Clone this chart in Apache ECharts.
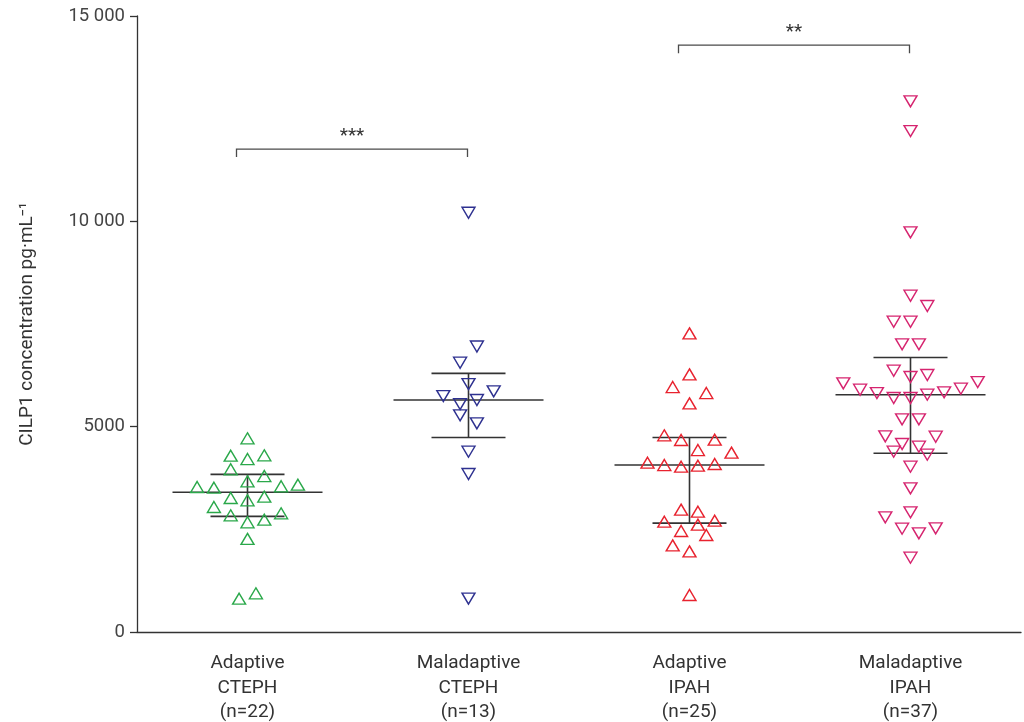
<!DOCTYPE html>
<html>
<head>
<meta charset="utf-8">
<script src="https://cdn.jsdelivr.net/npm/echarts@6/dist/echarts.min.js"></script>
<style>
  html, body { margin: 0; padding: 0; background: #fff; }
  #chart { width: 1024px; height: 722px; }
</style>
</head>
<body>
<div id="chart"></div>
<script>
// Groups on the x axis
const categories = [
  'Adaptive\nCTEPH\n(n=22)',
  'Maladaptive\nCTEPH\n(n=13)',
  'Adaptive\nIPAH\n(n=25)',
  'Maladaptive\nIPAH\n(n=37)'
];

// CILP1 concentration, pg/mL, one value per patient
const adaptiveCTEPH = [
  811, 942,
  2268,
  2671, 2841, 2735, 3044, 2890,
  3207, 3263, 3294, 3514, 3548, 3531, 3587,
  3669, 3962, 3798,
  4212, 4293, 4302,
  4716
];
const maladaptiveCTEPH = [
  812,
  3847,
  4391,
  5276, 5081,
  5551, 5649, 5746, 5860,
  6038,
  6557, 6952,
  10209
];
const adaptiveIPAH = [
  901,
  1964, 2110, 2362,
  2459, 2614, 2686, 2711,
  2979, 2930,
  4026, 4050, 4066, 4091, 4123, 4367,
  4675, 4431, 4789, 4683,
  5568, 5965, 5819,
  6274,
  7272
];
const maladaptiveIPAH = [
  1810,
  2516, 2402, 2792, 2524,
  2914,
  3498,
  4026, 4391, 4318,
  4578, 4513, 4764, 4756,
  5178, 5178,
  5698, 5698, 5779, 5819, 5836, 5900, 5925, 6055, 6087,
  6209, 6363, 6258,
  7005, 7005,
  7556, 7556,
  8189, 7938,
  9731,
  12199,
  12921
];

// Significance brackets between groups
const bracketPairs = [[0, 1], [2, 3]];
const bracketLevels = [11760, 14290];
const bracketLabels = ['***', '**'];

// Value axis ticks
const yTicks = [0, 5000, 10000, 15000];

const groupValues = [adaptiveCTEPH, maladaptiveCTEPH, adaptiveIPAH, maladaptiveIPAH];
const groupColors = ['#2aa84a', '#2e3190', '#e8222e', '#d6246f'];
const groupPointDown = [false, true, false, true];

const ROW_SPAN = 400;   // values closer than this (from the row's lowest) share a row
const LANE_PX = 16.8;   // horizontal spacing between neighbouring markers
const MEDIAN_HALF = 75;
const CAP_HALF = 37;
const INK = '#333333';
const FONT = 'Roboto, "Noto Sans", sans-serif';

// Spread each row of similar values symmetrically about the group centre
function laneOffsets(values) {
  const order = values.map((v, i) => i).sort((a, b) => values[a] - values[b] || a - b);
  const lanes = new Array(values.length);
  let k = 0;
  while (k < order.length) {
    const start = values[order[k]];
    let j = k;
    while (j < order.length && values[order[j]] - start < ROW_SPAN) j++;
    const row = order.slice(k, j).sort((a, b) => a - b);
    const n = row.length;
    row.forEach((p, r) => {
      let lane;
      if (n % 2) {
        const m = Math.ceil(r / 2);
        lane = r === 0 ? 0 : (r % 2 ? -m : m);
      } else {
        const m = Math.floor(r / 2) + 0.5;
        lane = r % 2 ? m : -m;
      }
      lanes[p] = lane;
    });
    k = j;
  }
  return lanes;
}

// Quantile with the (n+1)p rule
function quantile(sorted, p) {
  const n = sorted.length;
  const pos = (n + 1) * p;
  const lo = Math.floor(pos), hi = Math.ceil(pos);
  if (lo < 1) return sorted[0];
  if (hi > n) return sorted[n - 1];
  return sorted[lo - 1] + (pos - lo) * (sorted[hi - 1] - sorted[lo - 1]);
}

const summary = groupValues.map((vals, c) => {
  const s = vals.slice().sort((a, b) => a - b);
  return [c, quantile(s, 0.5), quantile(s, 0.25), quantile(s, 0.75)];
});

const scatterSeries = groupValues.map((vals, c) => {
  const lanes = laneOffsets(vals);
  return {
    type: 'scatter',
    z: 3,
    symbol: 'triangle',
    symbolSize: [13, 11],
    symbolRotate: groupPointDown[c] ? 180 : 0,
    itemStyle: { color: 'rgba(255,255,255,0)', borderColor: groupColors[c], borderWidth: 1.4, opacity: 1 },
    emphasis: { disabled: true },
    data: vals.map((v, i) => ({ value: [c, v], symbolOffset: [lanes[i] * LANE_PX, 0] }))
  };
});

const summarySeries = {
  type: 'custom',
  z: 2,
  silent: true,
  data: summary,
  renderItem(params, api) {
    const c = api.value(0);
    const med = api.coord([c, api.value(1)]);
    const q1 = api.coord([c, api.value(2)]);
    const q3 = api.coord([c, api.value(3)]);
    const st = { stroke: INK, lineWidth: 1.6 };
    return {
      type: 'group',
      children: [
        { type: 'line', shape: { x1: med[0] - MEDIAN_HALF, y1: med[1], x2: med[0] + MEDIAN_HALF, y2: med[1] }, style: st },
        { type: 'line', shape: { x1: q1[0] - CAP_HALF, y1: q1[1], x2: q1[0] + CAP_HALF, y2: q1[1] }, style: st },
        { type: 'line', shape: { x1: q3[0] - CAP_HALF, y1: q3[1], x2: q3[0] + CAP_HALF, y2: q3[1] }, style: st },
        { type: 'line', shape: { x1: q1[0], y1: q1[1], x2: q3[0], y2: q3[1] }, style: st }
      ]
    };
  }
};

const bracketSeries = {
  type: 'custom',
  z: 2,
  silent: true,
  clip: false,
  data: bracketPairs.map((p, i) => [p[0], p[1], bracketLevels[i]]),
  renderItem(params, api) {
    const a = api.coord([api.value(0), api.value(2)]);
    const b = api.coord([api.value(1), api.value(2)]);
    const x1 = a[0] - 11, x2 = b[0] - 1, y = a[1];
    const st = { stroke: '#4a4a4a', lineWidth: 1.3, fill: null };
    return {
      type: 'group',
      children: [
        { type: 'polyline', shape: { points: [[x1, y + 8], [x1, y], [x2, y], [x2, y + 8]] }, style: st },
        {
          type: 'text',
          style: {
            text: bracketLabels[params.dataIndex],
            x: (x1 + x2) / 2, y: y - 3,
            align: 'center', verticalAlign: 'bottom',
            font: '19px ' + FONT, fill: '#333'
          }
        }
      ]
    };
  }
};

const chart = echarts.init(document.getElementById('chart'), null, { renderer: 'canvas' });
chart.setOption({
  animation: false,
  backgroundColor: '#fff',
  grid: { left: 137, right: 3, top: 16, bottom: 90, containLabel: false, outerBoundsMode: 'none' },
  xAxis: {
    type: 'category',
    data: categories,
    boundaryGap: true,
    axisLine: { lineStyle: { color: INK, width: 1.3 } },
    axisTick: { alignWithLabel: true, length: 6, lineStyle: { color: INK, width: 1.3 } },
    axisLabel: { color: '#333', fontFamily: FONT, fontSize: 19, lineHeight: 24.5, margin: 19 },
    splitLine: { show: false }
  },
  yAxis: {
    type: 'value',
    min: yTicks[0],
    max: yTicks[yTicks.length - 1],
    interval: yTicks[1] - yTicks[0],
    name: 'CILP1 concentration pg·mL⁻¹',
    nameLocation: 'middle',
    nameGap: 100,
    nameTextStyle: { color: '#333', fontFamily: FONT, fontSize: 19 },
    axisLine: { show: true, lineStyle: { color: INK, width: 1.3 } },
    axisTick: { show: true, length: 7, lineStyle: { color: INK, width: 1.3 } },
    axisLabel: {
      color: '#444', fontFamily: FONT, fontSize: 18.5, margin: 12,
      formatter: v => v >= 10000 ? String(v).replace(/(\d)(?=(\d{3})+$)/g, '$1 ') : String(v)
    },
    splitLine: { show: false }
  },
  series: [summarySeries, bracketSeries].concat(scatterSeries)
});
</script>
</body>
</html>
